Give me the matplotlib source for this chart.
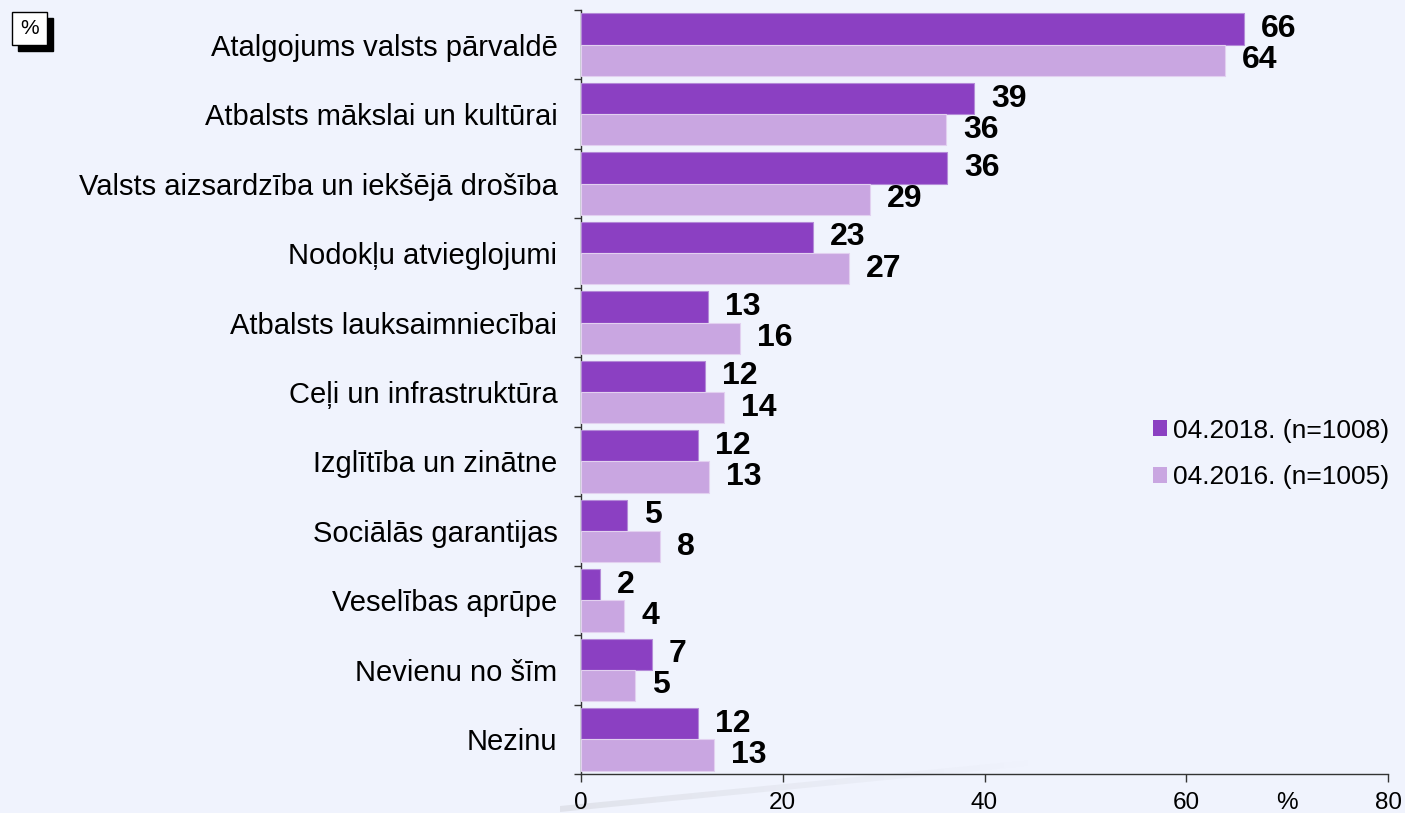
import matplotlib
matplotlib.use("Agg")
import matplotlib.pyplot as plt
import numpy as np
from matplotlib.patches import Rectangle, Polygon

categories = [
    "Atalgojums valsts pārvaldē",
    "Atbalsts mākslai un kultūrai",
    "Valsts aizsardzība un iekšējā drošība",
    "Nodokļu atvieglojumi",
    "Atbalsts lauksaimniecībai",
    "Ceļi un infrastruktūra",
    "Izglītība un zinātne",
    "Sociālās garantijas",
    "Veselības aprūpe",
    "Nevienu no šīm",
    "Nezinu",
]
values_2018 = [65.7, 39.0, 36.3, 23.0, 12.6, 12.3, 11.6, 4.6, 1.9, 7.0, 11.6]
values_2016 = [63.8, 36.2, 28.6, 26.6, 15.8, 14.2, 12.7, 7.8, 4.3, 5.4, 13.2]
labels_2018 = [66, 39, 36, 23, 13, 12, 12, 5, 2, 7, 12]
labels_2016 = [64, 36, 29, 27, 16, 14, 13, 8, 4, 5, 13]
series_names = ["04.2018. (n=1008)", "04.2016. (n=1005)"]
x_ticks = [0, 20, 40, 60, 80]

BG = "#F0F3FD"
C18 = "#8B40C2"
C16 = "#C9A6E1"

plt.rcParams['font.family'] = ['Liberation Sans', 'DejaVu Sans']

W, H = 1405, 813
fig = plt.figure(figsize=(W/100, H/100), dpi=100, facecolor=BG)
ax = fig.add_axes([581/W, (H-774)/H, (1388-581)/W, (774-10)/H])
ax.set_facecolor("none")

def fx(px):
    return px / W

def fy(py):
    return (H - py) / H

# faint swoosh in background
n = 40
for i, a in enumerate(np.linspace(0.14, 0.0, n)):
    x0 = 560 + i * 12
    x1 = x0 + 12
    y0 = 812 - (x0 - 560) * 0.098
    y1 = 812 - (x1 - 560) * 0.098
    th = 6
    fig.add_artist(Polygon([[fx(x0), fy(y0)], [fx(x1), fy(y1)],
                            [fx(x1), fy(y1 - th)], [fx(x0), fy(y0 - th)]],
                           closed=True, transform=fig.transFigure,
                           facecolor="#808080", edgecolor="none", alpha=a, zorder=0))

y = np.arange(len(categories))
h = 0.45
ax.barh(y - h/2, values_2018, height=h, color=C18, edgecolor="#B48AD8", linewidth=0.8,
        label=series_names[0], zorder=3)
ax.barh(y + h/2, values_2016, height=h, color=C16, edgecolor="#E2D0F0", linewidth=0.8,
        label=series_names[1], zorder=3)

for i in range(len(categories)):
    ax.annotate(str(labels_2018[i]), (values_2018[i], y[i] - h/2), xytext=(17, 0),
                textcoords="offset pixels",
                va="center", ha="left", fontsize=23, fontweight="bold", color="black")
    ax.annotate(str(labels_2016[i]), (values_2016[i], y[i] + h/2), xytext=(17, 0),
                textcoords="offset pixels",
                va="center", ha="left", fontsize=23, fontweight="bold", color="black")

ax.set_xlim(0, 80)
ax.set_ylim(len(categories) - 0.5, -0.5)
ax.set_xticks(x_ticks)
ax.set_xticklabels([str(t) for t in x_ticks], fontsize=17.5)
ax.set_yticks(y)
ax.set_yticklabels(categories, fontsize=21)
ax.set_yticks(np.arange(len(categories) + 1) - 0.5, minor=True)
ax.tick_params(axis="y", which="major", length=0, pad=17)
ax.tick_params(axis="y", which="minor", length=5, width=1, color="#333333")
ax.tick_params(axis="x", which="major", length=6, width=1, color="#333333", pad=7)
for s in ["top", "right"]:
    ax.spines[s].set_visible(False)
for s in ["left", "bottom"]:
    ax.spines[s].set_color("#333333")
    ax.spines[s].set_linewidth(1)

# percent unit label next to the x tick labels (same baseline)
tl = ax.get_xticklabels()[0]
fig.canvas.draw()
bb = tl.get_window_extent()
ax.annotate("%", xy=(fx(1287), bb.y0 / H), xycoords="figure fraction",
            fontsize=17.5, ha="center", va="bottom")

leg = ax.legend(loc="center left", bbox_to_anchor=(fx(1129), fy(454)),
                bbox_transform=fig.transFigure, frameon=False, fontsize=19,
                handlelength=0.55, handleheight=0.55, handletextpad=0.2, labelspacing=0.85)
for hnd in leg.legend_handles:
    hnd.set_edgecolor("none")

# "%" box in top-left corner
fig.add_artist(Rectangle((fx(18), fy(51)), 35/W, 33/H, transform=fig.transFigure,
                         facecolor="black", edgecolor="black", zorder=5))
fig.add_artist(Rectangle((fx(12), fy(45)), 35/W, 33/H, transform=fig.transFigure,
                         facecolor="white", edgecolor="black", linewidth=1, zorder=6))
fig.text(fx(29.5), fy(29), "%", fontsize=15, ha="center", va="center", zorder=7)

fig.savefig("out.png", dpi=100, facecolor=BG)
